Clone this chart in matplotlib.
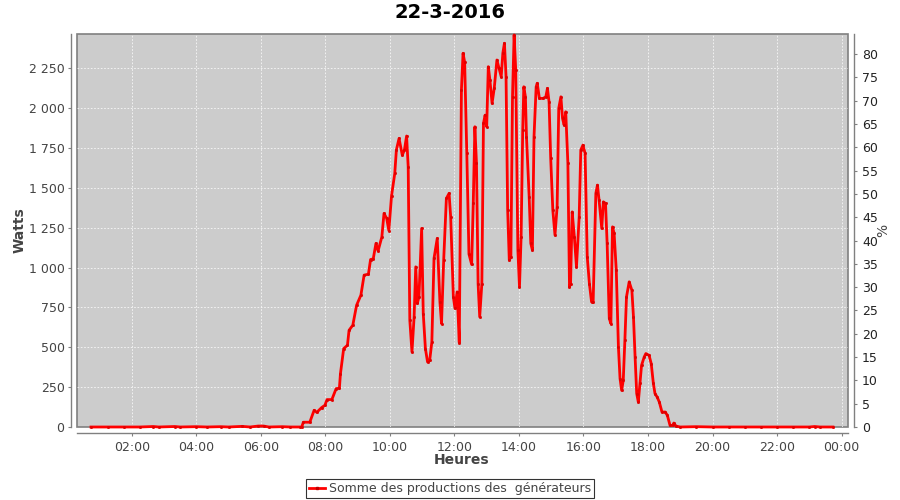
import matplotlib
matplotlib.use("Agg")
import matplotlib.pyplot as plt
import matplotlib.dates as mdates
from matplotlib.ticker import FuncFormatter
from matplotlib.lines import Line2D
import pandas as pd

day = "2016-03-22"
title = "22-3-2016"
x_label = "Heures"
y_label = "Watts"
y2_label = "%"
legend_label = "Somme des productions des  générateurs"

times = [
    "00:44", "01:15", "01:45", "02:15", "02:40", "02:50", "03:20", "03:30",
    "04:00", "04:20", "04:45", "05:00", "05:25", "05:40", "05:55", "06:05",
    "06:15", "06:40", "06:55", "07:13", "07:16", "07:19", "07:31", "07:39",
    "07:44", "07:53", "07:59", "08:03", "08:12", "08:20", "08:26", "08:28",
    "08:34", "08:41", "08:44", "08:51", "08:58", "09:06", "09:12", "09:20",
    "09:24", "09:29", "09:34", "09:38", "09:45", "09:49", "09:54", "09:58",
    "10:03", "10:09", "10:12", "10:17", "10:23", "10:27", "10:31", "10:34",
    "10:37", "10:41", "10:45", "10:48", "10:51", "10:54", "10:59", "11:02",
    "11:06", "11:10", "11:14", "11:18", "11:22", "11:28", "11:33", "11:36",
    "11:40", "11:45", "11:50", "11:53", "11:58", "12:01", "12:05", "12:09",
    "12:13", "12:16", "12:19", "12:23", "12:27", "12:32", "12:35", "12:38",
    "12:41", "12:44", "12:47", "12:51", "12:54", "12:57", "13:00", "13:03",
    "13:06", "13:10", "13:14", "13:19", "13:23", "13:27", "13:30", "13:33",
    "13:36", "13:39", "13:42", "13:45", "13:48", "13:51", "13:54", "13:58",
    "14:01", "14:04", "14:07", "14:09", "14:12", "14:14", "14:19", "14:22",
    "14:25", "14:28", "14:32", "14:34", "14:38", "14:45", "14:50", "14:53",
    "14:56", "14:59", "15:03", "15:07", "15:11", "15:14", "15:18", "15:21",
    "15:24", "15:27", "15:31", "15:34", "15:36", "15:39", "15:43", "15:47",
    "15:52", "15:55", "15:59", "16:03", "16:07", "16:11", "16:15", "16:18",
    "16:23", "16:26", "16:29", "16:34", "16:37", "16:41", "16:44", "16:48",
    "16:51", "16:54", "16:57", "17:01", "17:05", "17:08", "17:11", "17:14",
    "17:17", "17:20", "17:25", "17:30", "17:33", "17:36", "17:39", "17:42",
    "17:45", "17:48", "17:53", "17:56", "18:02", "18:06", "18:10", "18:13",
    "18:17", "18:21", "18:26", "18:32", "18:36", "18:41", "18:46", "18:48",
    "18:52", "19:00", "19:30", "20:00", "20:30", "21:00", "21:30", "22:00",
    "22:30", "23:00", "23:10", "23:20", "23:44",
]
watts = [
    0, 0, 0, 0, 3, 0, 3, 0,
    2, 0, 2, 0, 4, 0, 6, 6,
    0, 2, 0, 0, 0, 30, 30, 105,
    92, 122, 136, 172, 172, 241, 243, 335,
    492, 513, 607, 639, 764, 827, 953, 959,
    1051, 1055, 1152, 1105, 1193, 1340, 1309, 1233,
    1450, 1591, 1738, 1811, 1706, 1738, 1826, 1633,
    670, 471, 691, 1005, 775, 816, 1246, 712,
    492, 408, 419, 534, 1058, 1183, 785, 649,
    1047, 1434, 1466, 1319, 816, 744, 848, 530,
    2115, 2345, 2290, 1717, 1085, 1020, 1403, 1884,
    1654, 900, 691, 900, 1905, 1957, 1884, 2261,
    2177, 2031, 2125, 2303, 2251, 2198, 2345, 2408,
    2198, 1361, 1047, 1068, 2072, 2460, 2240, 1110,
    879, 1193, 1863, 2135, 2072, 1821, 1444, 1152,
    1110, 1821, 2135, 2157, 2062, 2062, 2072, 2125,
    2040, 1690, 1360, 1204, 1382, 2000, 2072, 1937,
    1895, 1978, 1654, 879, 900, 1350, 1193, 1005,
    1319, 1738, 1769, 1717, 1068, 900, 785, 785,
    1466, 1518, 1424, 1246, 1413, 1403, 1152, 681,
    649, 1256, 1215, 984, 502, 304, 230, 293,
    544, 816, 911, 858, 691, 440, 210, 157,
    273, 387, 440, 461, 450, 398, 273, 210,
    188, 157, 94, 94, 73, 10, 10, 25,
    6, 0, 2, 0, 0, 0, 0, 0,
    0, 0, 3, 0, 0,
]

y_ticks = list(range(0, 2251, 250))
y2_ticks = list(range(0, 81, 5))

t = pd.to_datetime([f"{day} {s}" for s in times])

grey_txt = "#444444"
axis_col = "#808080"

fig = plt.figure(figsize=(9, 5), dpi=100)
ax = fig.add_axes([77 / 900, 73 / 500, 771 / 900, 393 / 500])
ax.set_facecolor("#cccccc")
ax.patch.set_edgecolor(axis_col)
ax.patch.set_linewidth(1.2)

ax.plot(t, watts, color="#ff0000", lw=2.0, marker="s", markersize=1.0,
        markerfacecolor="#e00000", markeredgecolor="#e00000",
        solid_joinstyle="round", clip_on=False, zorder=3)

x0 = pd.Timestamp(f"{day} 00:18")
x1 = pd.Timestamp(f"{day} 00:00") + pd.Timedelta(hours=24, minutes=12)
ax.set_xlim(x0, x1)
ax.set_ylim(0, 2466)

ax.xaxis.set_major_locator(mdates.HourLocator(byhour=range(0, 24, 2)))
ax.xaxis.set_major_formatter(mdates.DateFormatter("%H:%M"))
ax.set_yticks(y_ticks)
ax.yaxis.set_major_formatter(FuncFormatter(lambda v, p: f"{v:,.0f}".replace(",", " ")))

ax.grid(True, color="white", linestyle=(0, (2, 2)), linewidth=0.6, alpha=0.85)
ax.set_axisbelow(True)

for s in ["top", "right"]:
    ax.spines[s].set_visible(False)
for s in ["left", "bottom"]:
    ax.spines[s].set_position(("outward", 4))
    ax.spines[s].set_color(axis_col)
    ax.spines[s].set_linewidth(1.0)

ax.tick_params(axis="both", direction="out", length=2, width=0.8, color=axis_col,
               labelsize=9, labelcolor=grey_txt, pad=3)
ax.tick_params(axis="x", pad=4)

ax2 = ax.twinx()
ax2.set_ylim(0, 84.3)
ax2.set_yticks(y2_ticks)
for s in ["top", "left", "bottom"]:
    ax2.spines[s].set_visible(False)
ax2.spines["right"].set_position(("outward", 4))
ax2.spines["right"].set_color(axis_col)
ax2.spines["right"].set_linewidth(1.0)
ax2.tick_params(axis="y", direction="out", length=2, width=0.8, color=axis_col,
                labelsize=9, labelcolor="#222222", pad=4)

fig.text(0.5, 1 - 12 / 500, title, ha="center", va="center",
         fontsize=14, fontweight="bold", color="black")
fig.text(20 / 900, 1 - 230 / 500, y_label, ha="center", va="center",
         rotation=90, fontsize=10, fontweight="bold", color=grey_txt)
fig.text(462 / 900, 1 - 460 / 500, x_label, ha="center", va="center",
         fontsize=10, fontweight="bold", color=grey_txt)
fig.text(883 / 900, 1 - 230 / 500, y2_label, ha="center", va="center",
         rotation=90, fontsize=10, color=grey_txt)

handle = Line2D([], [], color="#ff0000", lw=2.0, marker="s", markersize=1.6,
                markerfacecolor="#c00000", markeredgecolor="#c00000")
leg = fig.legend([handle], [legend_label], loc="lower center",
                 bbox_to_anchor=(0.5, 2 / 500), fontsize=9, frameon=True,
                 fancybox=False, edgecolor="black", borderpad=0.25,
                 handlelength=1.3, handletextpad=0.3, borderaxespad=0)
leg.get_frame().set_linewidth(0.8)
for txt in leg.get_texts():
    txt.set_color(grey_txt)

fig.savefig("out.png", dpi=100, facecolor="white")
